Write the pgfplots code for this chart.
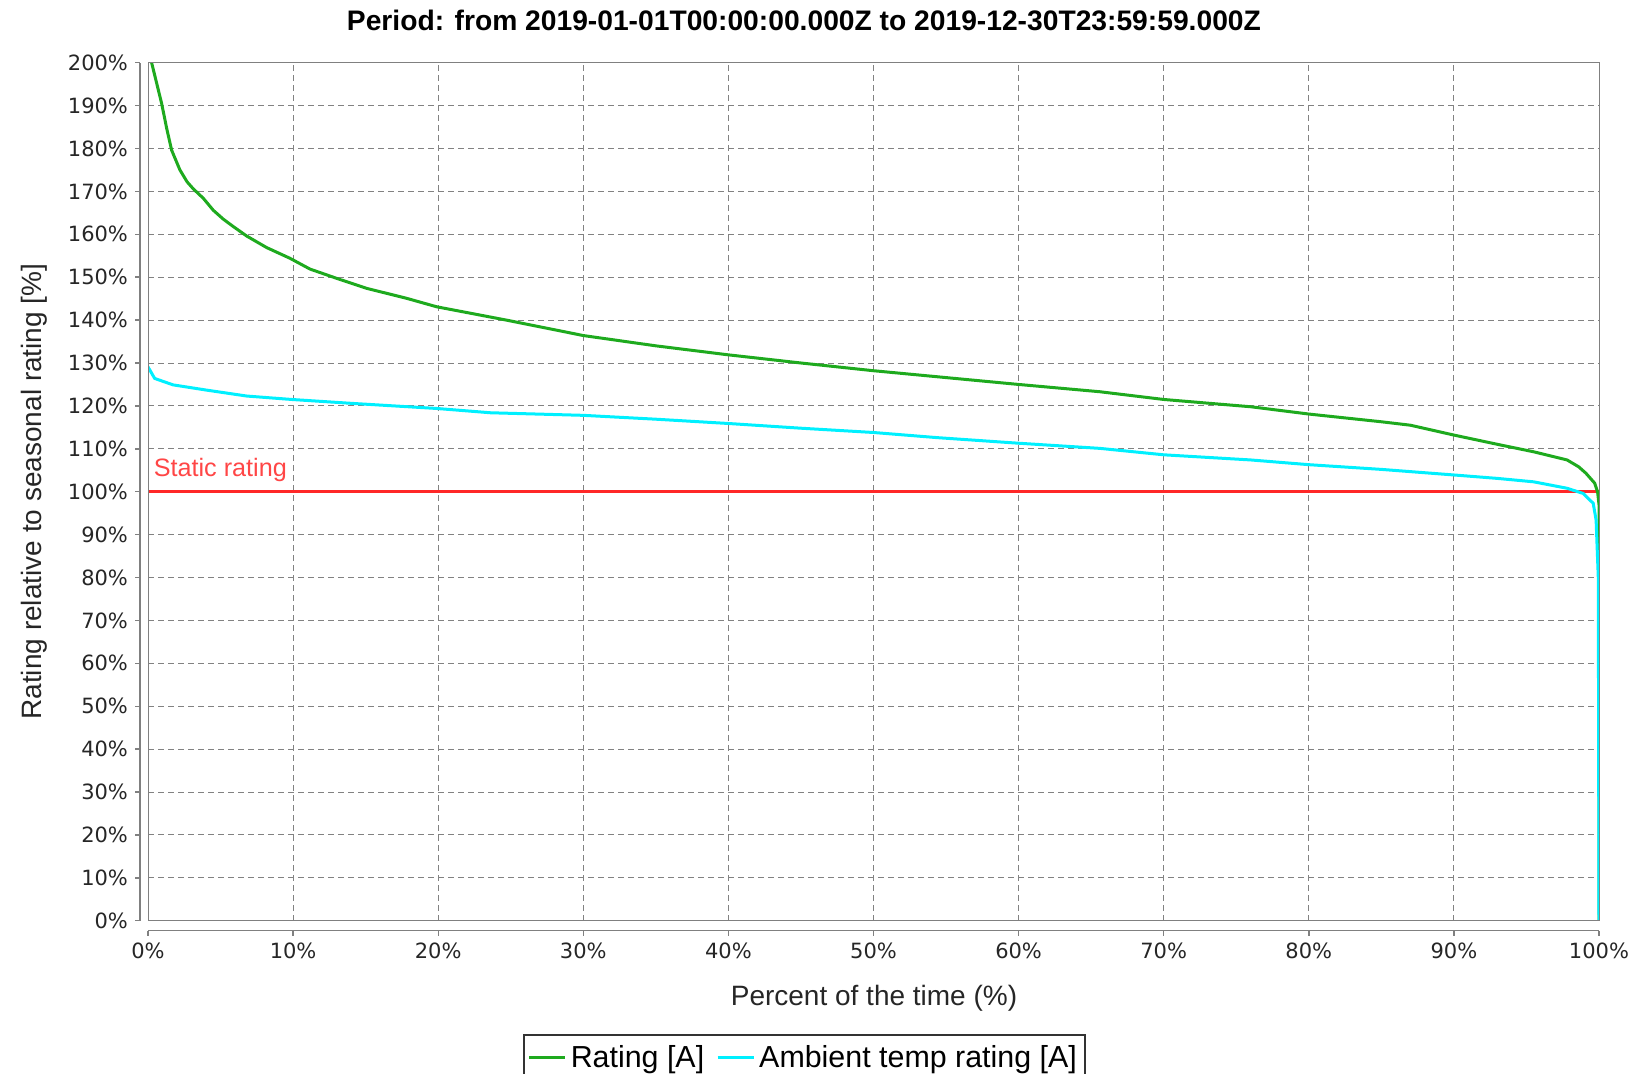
\documentclass[border=0pt]{standalone}
\usepackage{pgfplots}
\pgfplotsset{compat=1.18}
\usepackage{fontspec}
\setmainfont{Liberation Sans}
\newfontfamily\tickfont{DejaVu Sans}
\definecolor{ratinggreen}{RGB}{30,170,30}
\definecolor{ambcyan}{RGB}{0,240,255}
\definecolor{statred}{RGB}{255,40,40}
\definecolor{labelred}{RGB}{255,70,70}
\definecolor{gridgray}{RGB}{130,130,130}
\definecolor{axgray}{RGB}{128,128,128}

\begin{document}
\begin{tikzpicture}
\useasboundingbox (0,0) rectangle (817pt,-537pt);
\node[anchor=base, inner sep=0] at (402pt,-15.5pt) {\resizebox{457pt}{!}{\bfseries Period: from 2019-01-01T00:00:00.000Z to 2019-12-30T23:59:59.000Z}};
\begin{axis}[
  at={(74pt,-460.35pt)}, anchor=south west,
  scale only axis, width=725.5pt, height=429pt,
  xmin=0,xmax=100,ymin=0,ymax=200,
  xtick={0,10,...,100}, ytick={0,10,...,200},
  separate axis lines,
  axis x line*=bottom, axis y line*=left,
  axis x line shift=5pt, axis y line shift=4pt,
  axis line style={axgray, line width=0.7pt},
  tick align=outside, major tick length=2.5pt,
  tick style={axgray, line width=0.7pt},
  grid=major,
  major grid style={gridgray, line width=0.5pt, dash pattern=on 3pt off 2pt},
  /pgf/number format/assume math mode=true,
  ticklabel style={font=\tickfont\fontsize{10.5}{12}\selectfont, text=black!85},
  xticklabel={\pgfmathprintnumber{\tick}\%},
  yticklabel={\pgfmathprintnumber{\tick}\%},
  legend columns=2,
  legend style={at={(0.2584,-0.1326)}, anchor=north west, draw=black!80, line width=0.8pt, font=\fontsize{15.2}{18}\selectfont, inner xsep=2pt, inner ysep=3pt, /tikz/every even column/.append style={column sep=4pt}},
  legend image code/.code={\draw[#1, line width=1.5pt] (0pt,0pt) -- (18pt,0pt);},
  clip mode=individual,
]
\addplot[statred, line width=1.6pt, forget plot] coordinates {(0,100) (100,100)};
\addplot[ratinggreen, line width=1.5pt] coordinates {
(0,212) (0.25,200) (0.94,190.5) (1.3,184.5) (1.63,179.6) (2.2,175.0) (2.7,172.2) (3.12,170.6) (3.81,168.4)
(4.5,165.6) (5.2,163.5) (5.88,161.8) (6.8,159.6) (8.18,156.9) (9.79,154.4) (11.16,151.9)
(13.2,149.5) (15.07,147.4) (17.8,145.1) (19.9,143.1) (24.7,140.0) (30,136.4)
(35,134.0) (40,131.9) (45,130.0) (50,128.2) (55,126.6) (60,125.0) (65.6,123.3)
(70,121.5) (76,119.8) (80,118.1) (85,116.3) (87,115.5) (90,113.2) (93.2,110.9)
(95.5,109.3) (97.8,107.4) (98.6,105.8) (99.1,104.3) (99.7,102) (99.9,100) (100,97) (100,0)
};
\addlegendentry{Rating [A]}
\addplot[ambcyan, line width=1.5pt] coordinates {
(0,129.1) (0.46,126.4) (1.73,124.9) (4.0,123.7) (6.8,122.3) (9.9,121.5) (14,120.6)
(19.9,119.4) (23.6,118.4) (30,117.8) (35,116.9) (40,115.9) (45,114.8) (50,113.8)
(54.4,112.6) (58.7,111.6) (60,111.3) (65.6,110.1) (70,108.6) (76,107.4) (80,106.3)
(85,105.2) (90,103.9) (93,103.1) (95.5,102.3) (97.8,100.8) (98.9,99.6) (99.6,97.3)
(99.8,93.4) (99.95,80) (100,0)
};
\addlegendentry{Ambient temp rating [A]}
\draw[axgray, line width=0.5pt] (rel axis cs:0,0) rectangle (rel axis cs:1,1);
\node[anchor=base west, inner sep=0, text=labelred, font=\fontsize{12.6}{14}\selectfont] at (axis cs:0.37,103.5) {Static rating};
\end{axis}
\node[anchor=base, font=\fontsize{14}{16}\selectfont, text=black!85] at (437pt,-502.5pt) {Percent of the time (\%)};
\node[rotate=90, anchor=base, font=\fontsize{14}{16}\selectfont, text=black!85] at (20.85pt,-245.8pt) {Rating relative to seasonal rating [\%]};
\end{tikzpicture}
\end{document}
